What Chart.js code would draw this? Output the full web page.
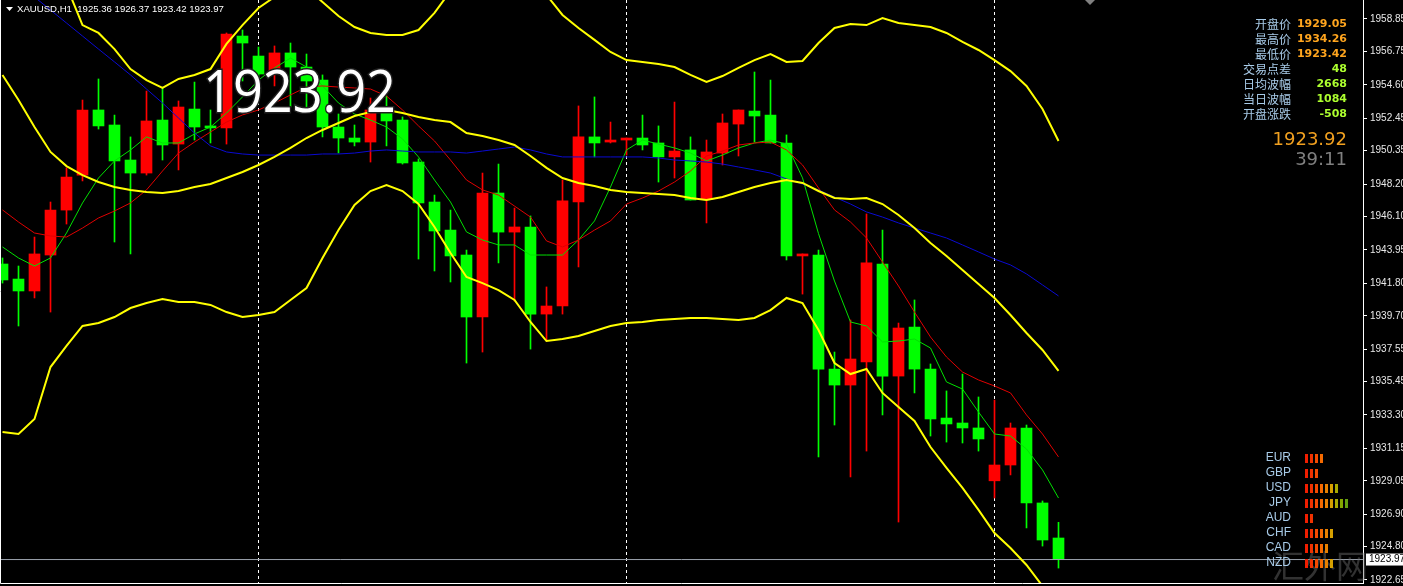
<!DOCTYPE html>
<html>
<head>
<meta charset="utf-8">
<script src="https://cdn.jsdelivr.net/npm/chart.js@4.4.0/dist/chart.umd.min.js"></script>
<style>
  html, body { margin: 0; padding: 0; background: #000; overflow: hidden; }
</style>
</head>
<body>
<canvas id="chart" width="1403" height="586"></canvas>
<script>
// XAUUSD H1 candles
const opens = [1943.04, 1942.07, 1941.30, 1943.62, 1946.52, 1948.78, 1952.98, 1952.01, 1949.75, 1948.91,
    1952.33, 1950.78, 1953.04, 1951.95, 1951.82, 1957.75, 1956.46, 1955.30, 1956.66, 1955.75,
    1954.91, 1951.88, 1951.17, 1950.91, 1952.98, 1952.33, 1949.62, 1947.04, 1945.23, 1943.62,
    1939.62, 1947.62, 1945.10, 1945.43, 1939.81, 1940.33, 1947.04, 1951.24, 1950.91, 1951.04,
    1951.17, 1950.85, 1949.95, 1950.40, 1947.23, 1950.20, 1952.07, 1952.91, 1952.65, 1950.85,
    1943.56, 1943.62, 1936.26, 1935.23, 1936.72, 1943.04, 1935.81, 1938.97, 1936.26, 1933.10,
    1932.78, 1932.46, 1929.05, 1930.07, 1932.46, 1927.62, 1925.36];
const highs = [1943.43, 1942.91, 1944.78, 1947.04, 1949.24, 1953.62, 1954.98, 1952.65, 1951.24, 1954.20,
    1954.40, 1953.56, 1954.78, 1952.98, 1957.95, 1958.14, 1957.04, 1957.11, 1957.30, 1956.59,
    1955.24, 1952.72, 1952.01, 1953.75, 1953.88, 1952.53, 1949.82, 1947.49, 1946.52, 1943.94,
    1948.91, 1949.49, 1946.65, 1946.14, 1941.56, 1948.46, 1953.24, 1953.82, 1952.20, 1951.17,
    1952.65, 1951.95, 1953.49, 1951.24, 1951.04, 1952.72, 1952.98, 1955.43, 1954.91, 1951.37,
    1943.69, 1943.94, 1937.36, 1939.43, 1946.27, 1945.23, 1939.23, 1940.72, 1936.59, 1934.85,
    1935.94, 1934.46, 1934.26, 1932.78, 1932.65, 1927.75, 1926.37];
const lows = [1941.81, 1939.04, 1940.85, 1939.94, 1945.62, 1948.40, 1951.75, 1944.46, 1943.69, 1948.78,
    1949.75, 1949.11, 1951.04, 1950.85, 1950.78, 1954.85, 1954.91, 1954.53, 1953.17, 1952.85,
    1951.24, 1950.20, 1950.66, 1949.62, 1950.66, 1949.49, 1943.36, 1942.59, 1941.88, 1936.65,
    1937.36, 1943.11, 1940.65, 1937.55, 1938.07, 1939.81, 1942.85, 1949.95, 1950.85, 1950.07,
    1950.40, 1948.33, 1948.59, 1947.17, 1945.69, 1949.43, 1950.01, 1950.91, 1950.85, 1943.30,
    1941.10, 1930.59, 1932.65, 1929.30, 1930.97, 1933.30, 1926.39, 1934.72, 1931.94, 1931.55,
    1931.49, 1930.97, 1927.94, 1929.43, 1926.01, 1924.84, 1923.42];
const closes = [1942.01, 1941.30, 1943.69, 1946.52, 1948.65, 1952.98, 1951.95, 1949.69, 1948.91, 1952.27,
    1950.72, 1953.17, 1951.88, 1951.82, 1957.88, 1957.30, 1955.30, 1956.66, 1955.75, 1954.85,
    1951.88, 1951.17, 1950.91, 1952.98, 1952.27, 1949.56, 1946.98, 1945.17, 1943.56, 1939.62,
    1947.62, 1945.10, 1945.43, 1939.81, 1940.33, 1947.11, 1951.24, 1950.85, 1951.04, 1951.17,
    1950.72, 1949.95, 1950.33, 1947.17, 1950.27, 1952.14, 1952.98, 1952.59, 1950.85, 1943.56,
    1943.69, 1936.26, 1935.23, 1936.91, 1943.11, 1935.81, 1938.91, 1936.26, 1933.04, 1932.72,
    1932.46, 1931.75, 1930.07, 1932.46, 1927.62, 1925.23, 1923.97];

// Bollinger bands (yellow)
const bbUpper = [1978.27, 1975.18, 1970.72, 1964.14, 1960.98, 1958.46, 1957.95, 1956.91, 1955.62, 1954.91,
    1954.40, 1954.98, 1955.24, 1955.62, 1957.24, 1958.46, 1959.56, 1960.27, 1960.33, 1960.85,
    1959.95, 1959.04, 1958.33, 1957.95, 1957.82, 1957.82, 1958.14, 1959.24, 1960.66, 1960.79,
    1960.79, 1960.72, 1960.72, 1960.72, 1960.40, 1959.11, 1958.27, 1957.50, 1956.72, 1956.20,
    1956.08, 1955.95, 1955.75, 1955.24, 1954.79, 1955.17, 1955.69, 1956.20, 1956.59, 1956.08,
    1956.14, 1957.30, 1958.27, 1958.53, 1958.46, 1958.91, 1958.59, 1958.46, 1958.33, 1957.95,
    1957.37, 1956.85, 1956.20, 1955.49, 1954.53, 1953.04, 1950.98];
const bbMiddle = [1955.24, 1953.62, 1951.88, 1950.27, 1949.36, 1948.78, 1948.33, 1948.01, 1947.82, 1947.69,
    1947.62, 1947.75, 1948.01, 1948.20, 1948.59, 1948.98, 1949.43, 1949.95, 1950.53, 1951.17,
    1951.69, 1952.14, 1952.59, 1952.85, 1952.98, 1952.78, 1952.53, 1952.33, 1952.20, 1951.49,
    1951.30, 1951.04, 1950.72, 1950.01, 1949.24, 1948.59, 1948.27, 1948.07, 1947.82, 1947.69,
    1947.62, 1947.56, 1947.49, 1947.30, 1947.17, 1947.36, 1947.69, 1948.01, 1948.27, 1948.46,
    1948.27, 1947.75, 1947.30, 1947.24, 1947.30, 1946.91, 1946.20, 1945.36, 1944.40, 1943.56,
    1942.65, 1941.75, 1940.85, 1939.75, 1938.59, 1937.49, 1936.14];
const bbLower = [1932.20, 1932.07, 1933.04, 1936.39, 1937.75, 1939.04, 1939.23, 1939.62, 1940.20, 1940.52,
    1940.78, 1940.59, 1940.59, 1940.40, 1939.94, 1939.62, 1939.75, 1939.94, 1940.72, 1941.49,
    1943.43, 1945.23, 1946.85, 1947.75, 1948.14, 1947.75, 1946.91, 1945.43, 1943.75, 1942.20,
    1941.81, 1941.36, 1940.72, 1939.30, 1938.07, 1938.20, 1938.39, 1938.72, 1939.04, 1939.23,
    1939.30, 1939.43, 1939.49, 1939.56, 1939.56, 1939.49, 1939.43, 1939.56, 1940.07, 1940.85,
    1940.52, 1938.78, 1936.65, 1935.94, 1936.27, 1934.72, 1933.81, 1932.91, 1931.23, 1929.88,
    1928.59, 1927.17, 1925.68, 1924.71, 1923.62, 1922.26, 1921.23];

// moving averages
const maBlue = [1961.95, 1961.11, 1960.27, 1959.43, 1958.59, 1957.75, 1956.91, 1956.08, 1955.24, 1954.33,
    1953.43, 1952.46, 1951.49, 1950.66, 1950.27, 1950.14, 1950.07, 1950.07, 1950.07, 1950.07,
    1950.14, 1950.14, 1950.20, 1950.33, 1950.40, 1950.33, 1950.27, 1950.27, 1950.27, 1950.20,
    1950.33, 1950.46, 1950.59, 1950.40, 1950.14, 1949.95, 1949.95, 1949.95, 1949.95, 1949.95,
    1949.95, 1949.88, 1949.75, 1949.69, 1949.62, 1949.49, 1949.30, 1949.11, 1948.91, 1948.53,
    1948.20, 1947.82, 1947.36, 1946.91, 1946.40, 1946.07, 1945.69, 1945.36, 1945.04, 1944.72,
    1944.27, 1943.82, 1943.36, 1942.98, 1942.40, 1941.69, 1940.98];
const maRed = [1946.53, 1945.75, 1945.04, 1944.85, 1944.78, 1945.36, 1946.01, 1946.46, 1946.98, 1947.82,
    1949.04, 1950.20, 1950.91, 1951.56, 1952.20, 1952.66, 1952.98, 1953.43, 1953.95, 1954.46,
    1954.53, 1954.46, 1954.40, 1954.33, 1953.88, 1952.98, 1951.95, 1950.98, 1949.75, 1948.46,
    1947.82, 1947.49, 1946.78, 1946.07, 1944.53, 1944.14, 1944.59, 1945.23, 1945.82, 1946.91,
    1947.30, 1947.75, 1948.33, 1949.04, 1950.01, 1950.33, 1950.72, 1950.85, 1950.91, 1950.40,
    1949.43, 1947.95, 1946.53, 1945.75, 1944.72, 1943.17, 1941.62, 1939.94, 1938.33, 1937.04,
    1936.07, 1935.56, 1935.17, 1934.72, 1933.30, 1932.07, 1930.59];
const maGreen = [1944.14, 1943.43, 1942.91, 1943.43, 1945.04, 1946.98, 1948.59, 1949.69, 1950.40, 1951.24,
    1950.85, 1950.85, 1951.43, 1951.88, 1952.78, 1953.82, 1954.91, 1955.69, 1956.33, 1955.75,
    1954.53, 1953.43, 1952.72, 1952.33, 1951.88, 1951.11, 1949.95, 1948.46, 1947.04, 1945.11,
    1944.59, 1944.27, 1944.27, 1943.62, 1943.62, 1943.62, 1944.59, 1945.82, 1948.01, 1950.40,
    1951.04, 1950.78, 1950.53, 1950.20, 1949.69, 1950.07, 1950.53, 1950.85, 1951.04, 1950.78,
    1948.60, 1945.00, 1941.94, 1939.30, 1939.04, 1938.01, 1938.07, 1938.20, 1937.62, 1935.43,
    1934.97, 1933.49, 1932.07, 1931.94, 1931.10, 1929.75, 1927.94];

const priceTicks = [1958.85, 1956.75, 1954.60, 1952.45, 1950.35, 1948.20, 1946.10, 1943.95, 1941.80,
    1939.70, 1937.55, 1935.45, 1933.30, 1931.15, 1929.05, 1926.90, 1924.80, 1922.65];
const daySeparators = [16, 39, 62];
const bidPrice = 1923.97;
const headerText = 'XAUUSD,H1  1925.36 1926.37 1923.42 1923.97';
const bigPrice = '1923.92';

const statLabels = ['开盘价', '最高价', '最低价', '交易点差', '日均波幅', '当日波幅', '开盘涨跌'];
const statValues = ['1929.05', '1934.26', '1923.42', '48', '2668', '1084', '-508'];
const statColors = ['#ffa51e', '#ffa51e', '#ffa51e', '#adff2f', '#adff2f', '#adff2f', '#adff2f'];
const panelPrice = '1923.92';
const panelTimer = '39:11';

const currencies = ['EUR', 'GBP', 'USD', 'JPY', 'AUD', 'CHF', 'CAD', 'NZD'];
const strength = [4, 3, 7, 9, 2, 6, 5, 6];
const blockColors = ['#f01e00', '#f03200', '#f54a00', '#f56a00', '#e88000', '#d6a000', '#a8aa00', '#84a800', '#62a010'];

const UP = '#ff0000';
const DOWN = '#00ff00';
const idx = closes.map((c, i) => i);
const candleColors = closes.map((c, i) => c > opens[i] ? UP : DOWN);

const lineSet = (values, color, width) => ({
    type: 'line',
    data: values.map((v, i) => ({ x: i, y: v })),
    borderColor: color,
    borderWidth: width,
    pointRadius: 0,
    tension: 0,
    order: 1
});

const overlay = {
    id: 'overlay',
    beforeDatasetsDraw(chart) {
        const { ctx, chartArea: a, scales: { x } } = chart;
        ctx.save();
        ctx.strokeStyle = '#ffffff';
        ctx.lineWidth = 1;
        ctx.setLineDash([3, 3]);
        daySeparators.forEach(s => {
            const px = x.getPixelForValue(s);
            ctx.beginPath();
            ctx.moveTo(px, a.top);
            ctx.lineTo(px, a.bottom);
            ctx.stroke();
        });
        ctx.restore();
    },
    afterDraw(chart) {
        const { ctx, chartArea: a, scales: { y } } = chart;
        ctx.save();

        // frame
        ctx.strokeStyle = '#ffffff';
        ctx.lineWidth = 1;
        ctx.beginPath();
        ctx.moveTo(0.5, a.top);
        ctx.lineTo(0.5, a.bottom + 0.5);
        ctx.lineTo(a.right, a.bottom + 0.5);
        ctx.stroke();

        // header
        ctx.fillStyle = '#ffffff';
        ctx.beginPath();
        ctx.moveTo(6, 7); ctx.lineTo(13, 7); ctx.lineTo(9.5, 11);
        ctx.closePath(); ctx.fill();
        ctx.font = '9.6px "Liberation Sans"';
        ctx.textBaseline = 'alphabetic';
        ctx.fillText(headerText, 17, 12);

        // shift marker
        ctx.fillStyle = '#808080';
        ctx.beginPath();
        ctx.moveTo(1085, 0); ctx.lineTo(1095, 0); ctx.lineTo(1090, 5);
        ctx.closePath(); ctx.fill();

        // big price
        ctx.font = '58px "Open Sans"';
        ctx.lineWidth = 3;
        ctx.strokeStyle = '#202020';
        ctx.strokeText(bigPrice, 203, 112, 193);
        ctx.fillStyle = '#ffffff';
        ctx.fillText(bigPrice, 203, 112, 193);

        // info panel
        ctx.textBaseline = 'middle';
        statLabels.forEach((t, i) => {
            const cy = 24 + i * 15;
            ctx.textAlign = 'right';
            ctx.font = '12px "Noto Sans CJK SC"';
            ctx.fillStyle = '#a8cbe8';
            ctx.fillText(t, 1291, cy);
            ctx.font = 'bold 11px "DejaVu Sans"';
            ctx.fillStyle = statColors[i];
            ctx.fillText(statValues[i], 1347, cy);
        });
        ctx.font = '18px "DejaVu Sans"';
        ctx.fillStyle = '#f0a020';
        ctx.fillText(panelPrice, 1347, 140, 78);
        ctx.fillStyle = '#808080';
        ctx.fillText(panelTimer, 1347, 160, 60);

        // watermark
        ctx.textAlign = 'left';
        ctx.font = '32px "Noto Sans CJK SC"';
        ctx.fillStyle = 'rgba(110,110,110,0.45)';
        ctx.fillText('汇外网', 1272, 566);

        // currency strength
        currencies.forEach((c, i) => {
            const cy = 458 + i * 15;
            ctx.textAlign = 'right';
            ctx.font = '12px "Liberation Sans"';
            ctx.fillStyle = '#a8cbe8';
            ctx.fillText(c, 1291, cy);
            for (let k = 0; k < strength[i]; k++) {
                ctx.fillStyle = blockColors[k];
                ctx.fillRect(1305 + k * 5, cy - 4, 3, 9);
            }
        });

        // bid price tag
        const by = y.getPixelForValue(bidPrice);
        ctx.fillStyle = '#ffffff';
        ctx.fillRect(a.right + 3, by - 6, 40, 12);
        ctx.fillStyle = '#000000';
        ctx.textAlign = 'left';
        ctx.font = '10px "Liberation Sans"';
        ctx.fillText(bidPrice.toFixed(2), a.right + 6, by);
        ctx.restore();
    }
};

new Chart(document.getElementById('chart'), {
    type: 'bar',
    data: {
        datasets: [
            lineSet(bbUpper, '#ffff00', 2),
            lineSet(bbMiddle, '#ffff00', 2),
            lineSet(bbLower, '#ffff00', 2),
            lineSet(maBlue, '#0a0ad2', 1),
            lineSet(maRed, '#e00000', 1),
            lineSet(maGreen, '#00e000', 1),
            {
                type: 'line',
                data: [{ x: -0.15625, y: bidPrice }, { x: 85.03125, y: bidPrice }],
                borderColor: '#9aa2ac',
                borderWidth: 1,
                pointRadius: 0,
                order: 2
            },
            {
                type: 'bar',
                data: idx.map(i => ({ x: i, y: [lows[i], highs[i]] })),
                backgroundColor: candleColors,
                barThickness: 1,
                grouped: false,
                order: 4
            },
            {
                type: 'bar',
                data: idx.map(i => ({ x: i, y: [opens[i], closes[i]] })),
                backgroundColor: candleColors,
                barThickness: 11,
                minBarLength: 1,
                grouped: false,
                order: 3
            }
        ]
    },
    options: {
        responsive: false,
        animation: false,
        layout: { padding: { left: 0, right: 0, top: 0, bottom: 3 } },
        plugins: { legend: { display: false }, tooltip: { enabled: false } },
        scales: {
            x: {
                type: 'linear',
                min: -0.15625,
                max: 85.03125,
                offset: false,
                display: false
            },
            y: {
                position: 'right',
                min: 1922.456,
                max: 1960.076,
                afterBuildTicks: axis => { axis.ticks = priceTicks.map(v => ({ value: v })); },
                afterFit: axis => { axis.width = 40; axis.paddingTop = 0; axis.paddingBottom = 0; },
                ticks: {
                    color: '#e8e8e8',
                    padding: 3,
                    font: { family: 'Liberation Sans', size: 10 },
                    callback: v => v.toFixed(2)
                },
                grid: { drawOnChartArea: false, drawTicks: true, tickLength: 4, color: '#ffffff' },
                border: { display: true, color: '#ffffff', dash: [3, 2] }
            }
        }
    },
    plugins: [overlay]
});
</script>
</body>
</html>
